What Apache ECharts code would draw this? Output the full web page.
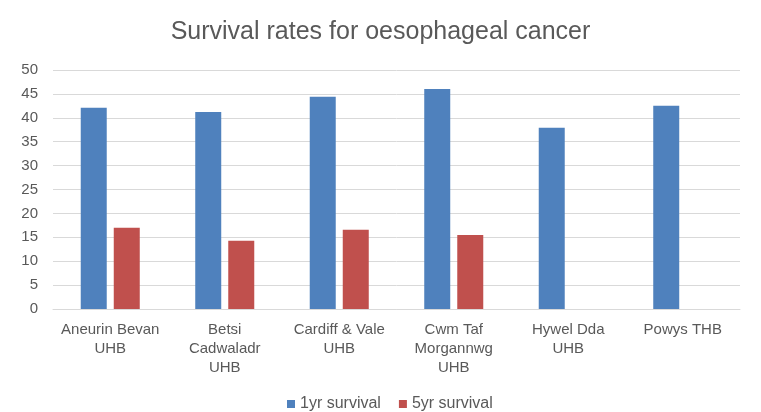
<!DOCTYPE html>
<html>
<head>
<meta charset="utf-8">
<script src="https://cdn.jsdelivr.net/npm/echarts@6/dist/echarts.min.js"></script>
<style>
  html, body { margin: 0; padding: 0; background: #fff; }
  #chart { width: 761px; height: 412px; }
</style>
</head>
<body>
<div id="chart"></div>
<script>
// health boards and survival rates (%)
const boards = ['Aneurin Bevan\nUHB', 'Betsi\nCadwaladr\nUHB', 'Cardiff & Vale\nUHB',
  'Cwm Taf\nMorgannwg\nUHB', 'Hywel Dda\nUHB', 'Powys THB']
const oneYear = [42.1, 41.2, 44.4, 46.0, 37.9, 42.5]
const fiveYear = [17.0, 14.3, 16.6, 15.5, null, null]
const yTicks = [0, 5, 10, 15, 20, 25, 30, 35, 40, 45, 50]

const chart = echarts.init(document.getElementById('chart'))
const font = 'Liberation Sans, Arial, sans-serif'

chart.setOption({
  animation: false,
  title: {
    text: 'Survival rates for oesophageal cancer',
    left: 'center',
    top: 15,
    textStyle: { fontFamily: font, fontSize: 25, fontWeight: 'normal', color: '#595959' }
  },
  legend: {
    bottom: -5,
    left: 282,
    itemWidth: 8,
    itemHeight: 8,
    itemGap: 18,
    itemStyle: { borderWidth: 0 },
    icon: 'rect',
    textStyle: { fontFamily: font, fontSize: 16, color: '#595959' },
    data: ['1yr survival', '5yr survival']
  },
  grid: { left: 53, right: 21, top: 70, bottom: 103 },
  xAxis: {
    type: 'category',
    data: boards,
    axisLine: { lineStyle: { color: '#d9d9d9' } },
    axisTick: { show: false },
    axisLabel: {
      interval: 0,
      fontFamily: font,
      fontSize: 15,
      color: '#595959',
      lineHeight: 19,
      margin: 11
    }
  },
  yAxis: {
    type: 'value',
    min: yTicks[0],
    max: yTicks[yTicks.length - 1],
    interval: 5,
    axisLine: { show: false },
    axisTick: { show: false },
    splitLine: { lineStyle: { color: '#d9d9d9', width: 1 } },
    axisLabel: { fontFamily: font, fontSize: 15, color: '#595959', margin: 15 }
  },
  series: [
    {
      name: '1yr survival',
      type: 'bar',
      data: oneYear,
      itemStyle: { color: '#4f81bd' },
      barWidth: 26,
      barGap: '27%'
    },
    {
      name: '5yr survival',
      type: 'bar',
      data: fiveYear,
      itemStyle: { color: '#c0504d' },
      barWidth: 26,
      barGap: '27%'
    }
  ]
})
</script>
</body>
</html>
